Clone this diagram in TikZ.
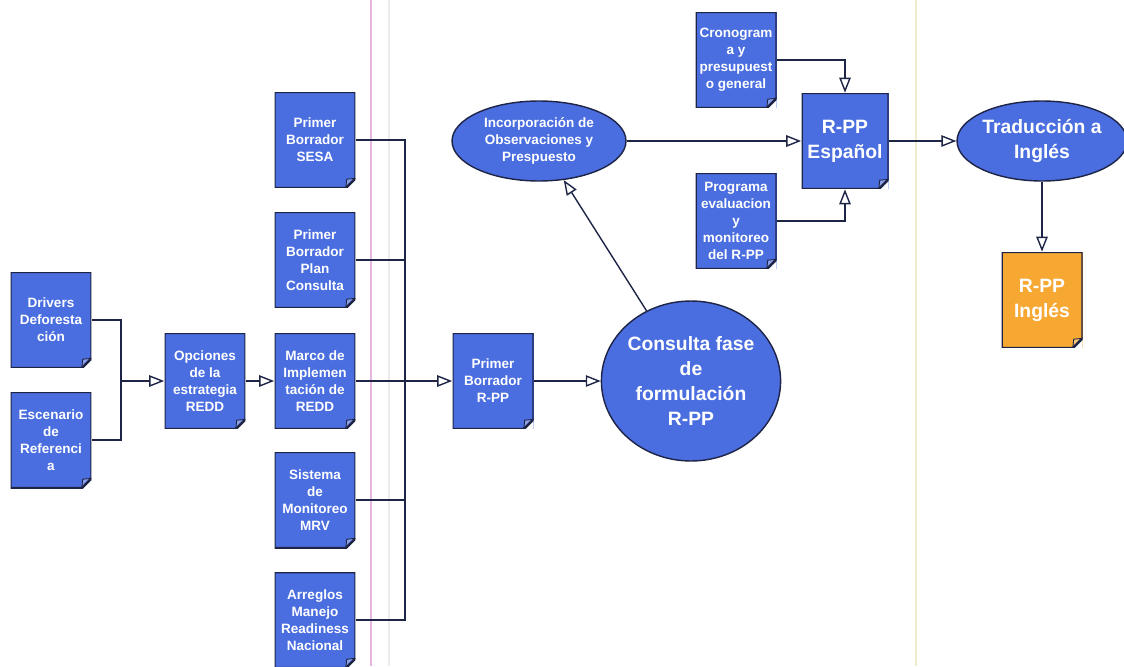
\documentclass[tikz,border=0pt]{standalone}
\usepackage{fontspec}
\setmainfont{Liberation Sans}
\usepackage{xcolor}
\usetikzlibrary{shapes.geometric, arrows.meta}
\definecolor{docblue}{RGB}{74,110,224}
\definecolor{docorange}{RGB}{246,168,50}
\definecolor{linecol}{RGB}{30,36,70}
\definecolor{pinkrule}{RGB}{232,180,226}
\definecolor{yellowrule}{RGB}{240,236,205}
\begin{document}
\begin{tikzpicture}[x=0.02cm, y=-0.02cm,
        small/.style={font=\fontsize{7.7}{9.7}\selectfont\bfseries},
        big/.style={font=\fontsize{11}{14.2}\selectfont\bfseries},
        doc/.style={rectangle, fill=docblue, minimum width=1.62cm, minimum height=1.92cm, inner sep=0pt,
            text=white, align=center, small,
            path picture={
                \fill[white] ([yshift=5.5pt]path picture bounding box.south east) -- (path picture bounding box.south east)
                    -- ([xshift=-5.5pt]path picture bounding box.south east) -- cycle;
                \filldraw[fill=white, fill opacity=0.35, draw=linecol, line width=0.5pt]
                    ([yshift=5.5pt]path picture bounding box.south east) -- ([xshift=-5.5pt]path picture bounding box.south east)
                    -- ([xshift=-5pt,yshift=5pt]path picture bounding box.south east) -- cycle;
                \draw[linecol, line width=1.4pt] (path picture bounding box.north west) -- (path picture bounding box.north east)
                    -- ([yshift=5.5pt]path picture bounding box.south east) -- ([xshift=-5.5pt]path picture bounding box.south east)
                    -- (path picture bounding box.south west) -- cycle;
            }},
        elip/.style={ellipse, draw=linecol, line width=0.8pt, fill=docblue, text=white, align=center, inner sep=0pt, small},
        line/.style={draw=linecol, line width=0.8pt},
        arr/.style={line, -{Triangle[open, length=8.5pt, width=6.5pt, fill=white]}}]
                \useasboundingbox (0,0) rectangle (1124,666);
                \draw[pinkrule, line width=1.2pt] (371,0) -- (371,666);
                \draw[black!8, line width=0.6pt] (389,0) -- (389,666);
                \draw[yellowrule, line width=1pt] (916,0) -- (916,666);

                \node[doc] (Drv) at (51,320) {Drivers\\Deforesta\\ción};
                \node[doc] (Esc) at (51,440) {Escenario\\de\\Referenci\\a};
                \node[doc] (Opc) at (205,381) {Opciones\\de la\\estrategia\\REDD};
                \node[doc] (Ses) at (315,140) {Primer\\Borrador\\SESA};
                \node[doc] (Pla) at (315,260) {Primer\\Borrador\\Plan\\Consulta};
                \node[doc] (Mar) at (315,381) {Marco de\\Implemen\\tación de\\REDD};
                \node[doc] (Sis) at (315,500) {Sistema\\de\\Monitoreo\\MRV};
                \node[doc] (Arr) at (315,620) {Arreglos\\Manejo\\Readiness\\Nacional};
                \node[doc] (Pbr) at (493,381) {Primer\\Borrador\\R-PP};
                \node[elip, big, minimum width=3.52cm, minimum height=3.2cm] (Con) at (691,381) {Consulta fase\\de\\formulación\\R-PP};
                \node[elip, minimum width=3.48cm, minimum height=1.6cm] (Inc) at (539,141) {Incorporación de\\Observaciones y\\Prespuesto};
                \node[doc] (Cro) at (736,60) {Cronogram\\a y\\presupuest\\o general};
                \node[doc] (Prg) at (736,221) {Programa\\evaluacion\\y\\monitoreo\\del R-PP};
                \node[doc, big, minimum width=1.74cm] (Esp) at (845,141) {R-PP\\Español};
                \node[elip, big, minimum width=3.4cm, minimum height=1.6cm] (Tra) at (1042,141) {Traducción a\\Inglés};
                \node[doc, big, fill=docorange] (Ing) at (1042,300) {R-PP\\Inglés};

                \coordinate (m1) at (121,381);
                \coordinate (bus) at (405,381);

                \draw[line] (Drv.east) -| (m1);
                \draw[line] (Esc.east) -| (m1);
                \draw[arr] (m1) -- (Opc.west);
                \draw[arr] (Opc.east) -- (Mar.west);
                \draw[line] (Ses.east) -| (bus);
                \draw[line] (Pla.east) -| (bus);
                \draw[line] (Mar.east) -- (bus);
                \draw[line] (Sis.east) -| (bus);
                \draw[line] (Arr.east) -| (bus);
                \draw[arr] (bus) -- (Pbr.west);
                \draw[arr] (Pbr.east) -- (Con.west);
                \draw[arr] (Con) -- (Inc);
                \draw[arr] (Inc.east) -- (Esp.west);
                \draw[arr] (Cro.east) -| (Esp.north);
                \draw[arr] (Prg.east) -| (Esp.south);
                \draw[arr] (Esp.east) -- (Tra.west);
                \draw[arr] (Tra.south) -- (Ing.north);
            \end{tikzpicture}
\end{document}
